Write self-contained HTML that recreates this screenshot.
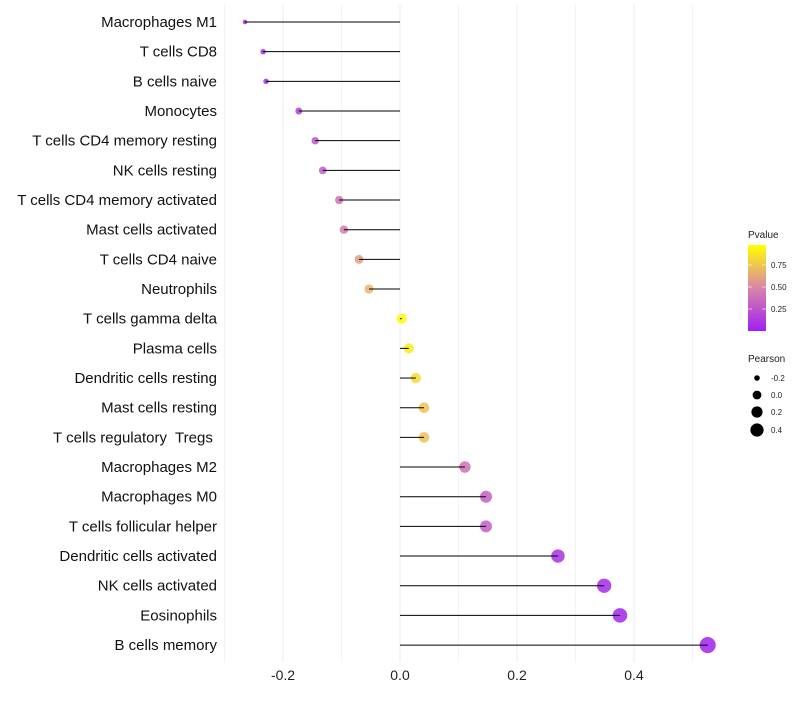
<!DOCTYPE html>
<html><head><meta charset="utf-8"><style>
body{margin:0;background:#fff;font-family:"Liberation Sans",sans-serif}
text{white-space:pre}
</style></head><body>
<svg id="c" width="800" height="700" xmlns="http://www.w3.org/2000/svg">
<defs><linearGradient id="g" x1="0" y1="1" x2="0" y2="0">
<stop offset="0" stop-color="#a020f0"/><stop offset="0.5" stop-color="#d985a8"/><stop offset="1" stop-color="#ffff00"/>
</linearGradient></defs>
<g id="grid"></g><g id="marks"></g><g id="labels"></g><g id="ticks"></g>
<g font-size="10" fill="#222">
<text x="748" y="238">Pvalue</text>
<rect x="748" y="245" width="18" height="86" fill="url(#g)"/>
<line x1="748" x2="752" y1="265" y2="265" stroke="#fff" opacity=".6"/><line x1="762" x2="766" y1="265" y2="265" stroke="#fff" opacity=".6"/>
<line x1="748" x2="752" y1="287" y2="287" stroke="#fff" opacity=".6"/><line x1="762" x2="766" y1="287" y2="287" stroke="#fff" opacity=".6"/>
<line x1="748" x2="752" y1="309" y2="309" stroke="#fff" opacity=".6"/><line x1="762" x2="766" y1="309" y2="309" stroke="#fff" opacity=".6"/>
<text x="771" y="268" font-size="8">0.75</text><text x="771" y="290" font-size="8">0.50</text><text x="771" y="312" font-size="8">0.25</text>
</g>
<g font-size="10" fill="#222">
<text x="748" y="362">Pearson</text>
<circle cx="757" cy="378" r="2.8" fill="#000"/><text x="771" y="381" font-size="8">-0.2</text>
<circle cx="757" cy="395" r="4.4" fill="#000"/><text x="771" y="398" font-size="8">0.0</text>
<circle cx="757" cy="412" r="5.6" fill="#000"/><text x="771" y="415" font-size="8">0.2</text>
<circle cx="757" cy="430" r="6.6" fill="#000"/><text x="771" y="433" font-size="8">0.4</text>
</g>
</svg>
<script>
const categories=["Macrophages M1","T cells CD8","B cells naive","Monocytes","T cells CD4 memory resting","NK cells resting","T cells CD4 memory activated","Mast cells activated","T cells CD4 naive","Neutrophils","T cells gamma delta","Plasma cells","Dendritic cells resting","Mast cells resting","T cells regulatory  Tregs ","Macrophages M2","Macrophages M0","T cells follicular helper","Dendritic cells activated","NK cells activated","Eosinophils","B cells memory"];
const pearson=[-0.265,-0.234,-0.229,-0.173,-0.145,-0.132,-0.104,-0.096,-0.070,-0.053,0.003,0.015,0.027,0.041,0.041,0.111,0.147,0.147,0.270,0.349,0.376,0.526];
const pvalue=[0.01,0.05,0.05,0.15,0.25,0.3,0.4,0.45,0.6,0.7,0.98,0.93,0.85,0.75,0.75,0.4,0.3,0.3,0.08,0.05,0.03,0.01];
const xTicks=[-0.2,0,0.2,0.4];
const xTickLabels=["-0.2","0.0","0.2","0.4"];
const NS="http://www.w3.org/2000/svg";
const x=v=>400+585*v;
const y=i=>22+i*29.67;
function mk(t,a,p){const e=document.createElementNS(NS,t);for(const k in a)e.setAttribute(k,a[k]);document.getElementById(p).appendChild(e);return e;}
function lerp(a,b,t){return a.map((v,i)=>Math.round(v+(b[i]-v)*t));}
function col(p){const c0=[160,32,240],c1=[217,133,168],c2=[255,255,0];const c=p<0.5?lerp(c0,c1,p/0.5):lerp(c1,c2,(p-0.5)/0.5);return `rgb(${c})`;}
for(let v=-0.3;v<=0.51;v+=0.1){const g=mk('line',{x1:x(v),x2:x(v),y1:5,y2:662,stroke:'#ebebeb','stroke-width':Math.abs(Math.round(v*10))%2==0?1:0.6},'grid');

}
categories.forEach((c,i)=>{
const r=Math.sqrt(Math.max(2,5+75*(pearson[i]+0.265)));
const pt=mk('circle',{cx:x(pearson[i]),cy:y(i),r:r,fill:col(pvalue[i]),'fill-opacity':0.85},'marks');


const s=mk('line',{x1:x(0),x2:x(pearson[i]),y1:y(i),y2:y(i),stroke:'#000','stroke-width':1},'marks');


const t=mk('text',{x:217,y:y(i)+5,'text-anchor':'end','font-size':15,fill:'#111'},'labels');t.textContent=c;


});
xTicks.forEach((v,i)=>{const t=mk('text',{x:x(v),y:680,'text-anchor':'middle','font-size':14,fill:'#222'},'ticks');t.textContent=xTickLabels[i];

});
</script>
</body></html>
